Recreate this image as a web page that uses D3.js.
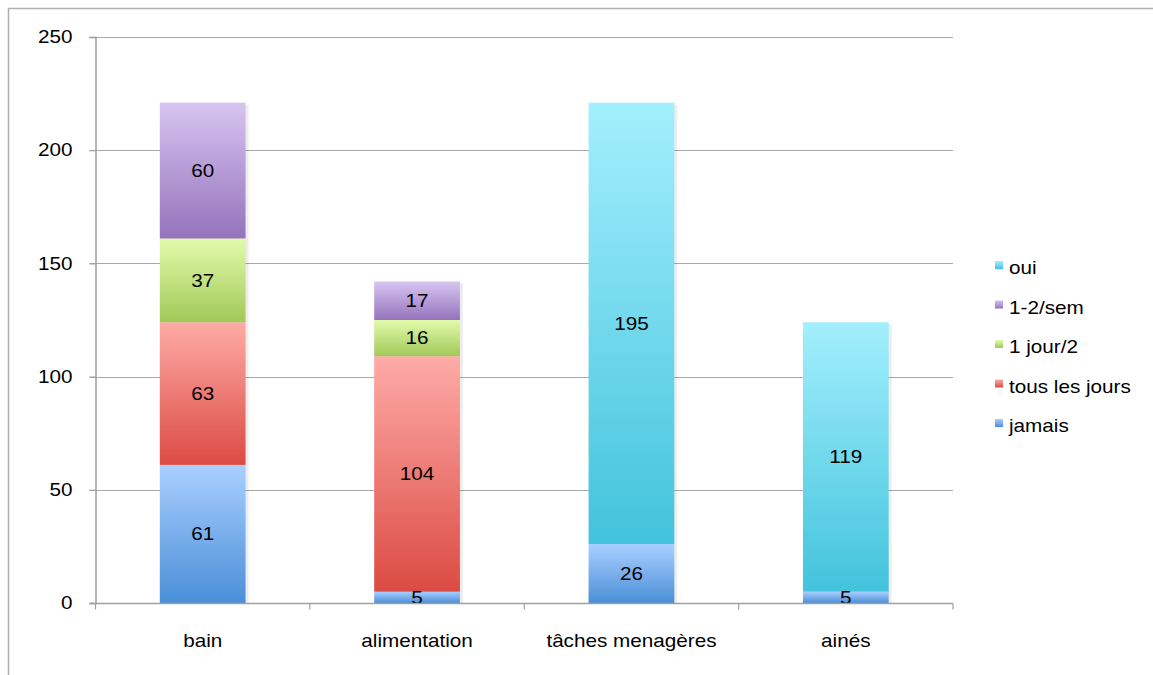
<!DOCTYPE html>
<html><head><meta charset="utf-8">
<script src="https://cdn.jsdelivr.net/npm/d3@7/dist/d3.min.js"></script>
<style>
html,body{margin:0;padding:0;background:#fff;}
svg{display:block;font-family:"Liberation Sans",Arial,sans-serif;}
</style></head>
<body>
<svg id="chart" width="1153" height="675"></svg>
<script>
const categories = ["bain", "alimentation", "tâches menagères", "ainés"];
const seriesNames = ["jamais", "tous les jours", "1 jour/2", "1-2/sem", "oui"];
const jamais = [61, 5, 26, 5];
const tousLesJours = [63, 104, 0, 0];
const unJourSur2 = [37, 16, 0, 0];
const semaine = [60, 17, 0, 0];
const oui = [0, 0, 195, 119];
const yTicks = [0, 50, 100, 150, 200, 250];
const legendOrder = ["oui", "1-2/sem", "1 jour/2", "tous les jours", "jamais"];

(function () {
const seriesValues = [jamais, tousLesJours, unJourSur2, semaine, oui];
const colors = {
  "jamais": ["#aacfff", "#4a8fd8"],
  "tous les jours": ["#ffaba7", "#db4b43"],
  "1 jour/2": ["#e2fbab", "#a2c858"],
  "1-2/sem": ["#d7c5f1", "#9573bc"],
  "oui": ["#a3effd", "#42c3dc"]
};
const FS = 18, SX = 1.15;

const table = categories.map((c, i) => {
  const row = {cat: c};
  seriesNames.forEach((s, j) => row[s] = seriesValues[j][i]);
  return row;
});

const svg = d3.select("#chart");
const defs = svg.append("defs");
seriesNames.forEach((s, i) => {
  const g = defs.append("linearGradient").attr("id", "grad" + i)
    .attr("x1", 0).attr("y1", 0).attr("x2", 0).attr("y2", 1);
  g.append("stop").attr("offset", "0%").attr("stop-color", colors[s][0]);
  g.append("stop").attr("offset", "100%").attr("stop-color", colors[s][1]);
});
const lgGrad = (s) => "url(#grad" + seriesNames.indexOf(s) + ")";

function label(parent, tx, ty, txt, anchor) {
  return parent.append("text")
    .attr("transform", `translate(${tx},${ty}) scale(${SX},1)`)
    .attr("dy", "0.35em").attr("text-anchor", anchor || "middle")
    .attr("font-size", FS).attr("fill", "#000").text(txt);
}

// outer frame
svg.append("rect").attr("x", 8.5).attr("y", 8.5).attr("width", 1160).attr("height", 680)
  .attr("fill", "none").attr("stroke", "#b0b0b0").attr("stroke-width", 1.5);

const pLeft = 95.5, pRight = 953, pTop = 37, pBottom = 603;
const x = d3.scaleBand().domain(categories).range([pLeft, pRight]).paddingInner(0.6).paddingOuter(0.3);
const xb = d3.scaleBand().domain(categories).range([pLeft, pRight]);
const y = d3.scaleLinear().domain([0, 250]).range([pBottom, pTop]);

// gridlines
svg.append("g").selectAll("line").data(yTicks.filter(t => t > 0)).join("line")
  .attr("x1", pLeft - 6).attr("x2", pRight).attr("y1", d => Math.round(y(d)) + 0.5).attr("y2", d => Math.round(y(d)) + 0.5)
  .attr("stroke", "#a8a8a8").attr("stroke-width", 1.2);

// y axis
const yAxis = svg.append("g").attr("transform", `translate(${pLeft},0)`)
  .call(d3.axisLeft(y).tickValues(yTicks).tickSize(6).tickPadding(17));
yAxis.select(".domain").attr("stroke", "#a0a0a0").attr("stroke-width", 1.5);
yAxis.selectAll(".tick line").attr("stroke", "#a0a0a0").attr("stroke-width", 1.2);
yAxis.selectAll(".tick text")
  .attr("x", -23 / SX).attr("transform", `scale(${SX},1)`)
  .attr("font-size", FS).attr("fill", "#000").attr("font-family", "Liberation Sans, Arial, sans-serif");

// stacked bars
const stack = d3.stack().keys(seriesNames)(table);
const barsG = svg.append("g");
barsG.selectAll("rect.shadow").data(table).join("rect").attr("class", "shadow")
  .attr("x", d => x(d.cat) + 3).attr("width", x.bandwidth())
  .attr("y", d => y(d3.sum(seriesNames, s => d[s])) + 2)
  .attr("height", d => pBottom - y(d3.sum(seriesNames, s => d[s])) - 2)
  .attr("fill", "#000").attr("opacity", 0.07);

stack.forEach(layer => {
  const s = layer.key;
  barsG.selectAll(null).data(layer.filter(d => d[1] - d[0] > 0)).join("rect")
    .attr("x", d => x(d.data.cat)).attr("width", x.bandwidth())
    .attr("y", d => y(d[1])).attr("height", d => y(d[0]) - y(d[1]))
    .attr("fill", lgGrad(s));
});
stack.forEach(layer => {
  layer.filter(d => d[1] - d[0] > 0).forEach(d => {
    label(barsG, x(d.data.cat) + x.bandwidth() / 2, (y(d[0]) + y(d[1])) / 2, d[1] - d[0]);
  });
});

// x axis
const xAxis = svg.append("g").attr("transform", `translate(0,${pBottom + 0.5})`);
xAxis.append("line").attr("x1", pLeft - 6).attr("x2", pRight).attr("stroke", "#a0a0a0").attr("stroke-width", 1.5);
const bounds = categories.map(c => xb(c)).concat([pRight]);
xAxis.selectAll("line.t").data(bounds).join("line").attr("class", "t")
  .attr("x1", d => d).attr("x2", d => d).attr("y1", 0).attr("y2", 6)
  .attr("stroke", "#a0a0a0").attr("stroke-width", 1.2);
categories.forEach(c => label(xAxis, xb(c) + xb.bandwidth() / 2, 37, c));

// legend
const legend = svg.append("g");
const lgY = d3.scalePoint().domain(legendOrder).range([268, 426]);
legendOrder.forEach(s => {
  const g = legend.append("g").attr("transform", `translate(995,${lgY(s)})`);
  g.append("rect").attr("x", 0).attr("y", -7).attr("width", 8).attr("height", 8).attr("fill", lgGrad(s));
  label(g, 14, 0, s, "start");
});
})();
</script>
</body></html>
